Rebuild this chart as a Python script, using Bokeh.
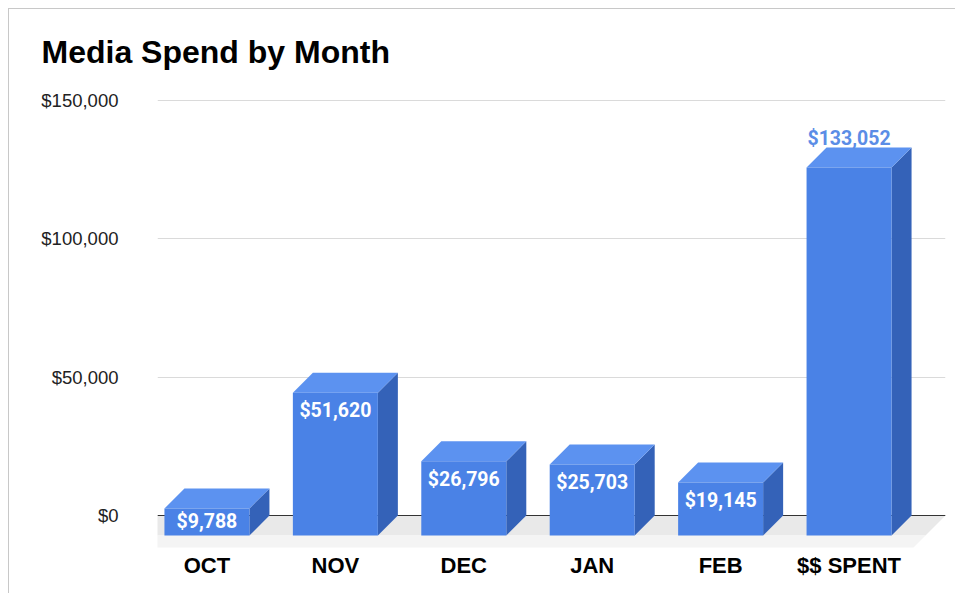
from bokeh.plotting import figure
from bokeh.models import ColumnDataSource, FixedTicker, NumeralTickFormatter, Range1d
from bokeh.core.properties import value
from bokeh.embed import file_html
from bokeh.resources import INLINE

# ---- data ----
CATEGORIES = ["OCT", "NOV", "DEC", "JAN", "FEB", "$$ SPENT"]
SPEND = [9788, 51620, 26796, 25703, 19145, 133052]
Y_TICKS = [0, 50000, 100000, 150000]
LABEL_OUTSIDE = [False, False, False, False, False, True]

# ---- layout / style ----
ML, MR, MT, MB = 148, 11, 81, 44
FW, FH = 788, 460
W, H = ML + FW + MR, MT + FH + MB
X0, X1 = -0.385, 5.751
Y0, Y1 = -12651, 153614
PX_X = FW / (X1 - X0)
PX_Y = FH / (Y1 - Y0)
DEPTH_PX = 20
BAR_PX = 85
dx = DEPTH_PX / PX_X
dy = DEPTH_PX / PX_Y
bw = BAR_PX / PX_X

FRONT = "#4a82e6"
TOP = "#5c92f0"
SIDE = "#3462b8"

p = figure(width=W, height=H, output_backend="svg", toolbar_location=None,
           x_range=Range1d(X0, X1), y_range=Range1d(Y0, Y1),
           min_border_left=ML, min_border_right=MR, min_border_top=MT, min_border_bottom=MB,
           title="Media Spend by Month")
p.outline_line_color = None
p.background_fill_color = "white"
p.border_fill_color = "white"

p.title.align = "left"
p.title.vertical_align = "middle"
p.title.offset = -116
p.title.standoff = 40
p.title.text_font = "Liberation Sans"
p.title.text_font_size = "32px"
p.title.text_font_style = "bold"
p.title.text_color = "#000000"

# floor
xl_floor, xr_floor = X0, X1
floor = dict(xs=[[xl_floor, xr_floor, xr_floor - dx, xl_floor - dx],
                 [xl_floor - dx, xr_floor - dx, xr_floor - 1.6 * dx, xl_floor - 1.6 * dx]],
             ys=[[0, 0, -dy, -dy], [-dy, -dy, -1.6 * dy, -1.6 * dy]],
             c=["#e9e9e9", "#f4f4f4"])
p.patches("xs", "ys", source=ColumnDataSource(floor), fill_color="c", line_color=None)

# baseline
p.segment(x0=[X0], y0=[0], x1=[X1], y1=[0], line_color="#333333", line_width=1.2)

# bars
idx = list(range(len(SPEND)))
fx, fy, tx, ty, sx, sy = [], [], [], [], [], []
for i, v in zip(idx, SPEND):
    l, r = i - bw / 2, i + bw / 2
    fx.append([l, r, r, l]); fy.append([-dy, -dy, v - dy, v - dy])
    tx.append([l, r, r + dx, l + dx]); ty.append([v - dy, v - dy, v, v])
    sx.append([r, r + dx, r + dx, r]); sy.append([-dy, 0, v, v - dy])
p.patches(sx, sy, fill_color=SIDE, line_color=None)
p.patches(tx, ty, fill_color=TOP, line_color=None)
p.patches(fx, fy, fill_color=FRONT, line_color=None)

# value labels
lab_in = dict(x=[], y=[], t=[])
lab_out = dict(x=[], y=[], t=[])
for i, v, out in zip(idx, SPEND, LABEL_OUTSIDE):
    txt = "${:,}".format(v)
    if out:
        lab_out["x"].append(i); lab_out["y"].append(v + 9 / PX_Y); lab_out["t"].append(txt)
    else:
        h_px = v * PX_Y
        off = min(18, h_px / 2)
        lab_in["x"].append(i); lab_in["y"].append(v - dy - off / PX_Y); lab_in["t"].append(txt)
p.text("x", "y", text="t", source=ColumnDataSource(lab_in), text_color="white",
       text_font=value("Roboto"), text_font_style="bold", text_font_size="19.5px",
       text_align="center", text_baseline="middle")
p.text("x", "y", text="t", source=ColumnDataSource(lab_out), text_color="#5b8de6",
       text_font=value("Roboto"), text_font_style="bold", text_font_size="19.5px",
       text_align="center", text_baseline="middle")

# axes
p.yaxis.ticker = FixedTicker(ticks=Y_TICKS)
p.yaxis.formatter = NumeralTickFormatter(format="$0,0")
p.yaxis.axis_line_color = None
p.yaxis.major_tick_line_color = None
p.yaxis.minor_tick_line_color = None
p.yaxis.major_label_standoff = 33
p.yaxis.major_label_text_font = "Liberation Sans"
p.yaxis.major_label_text_font_size = "18.5px"
p.yaxis.major_label_text_color = "#222222"

p.xaxis.ticker = FixedTicker(ticks=idx)
p.xaxis.major_label_overrides = {i: c for i, c in zip(idx, CATEGORIES)}
p.xaxis.axis_line_color = None
p.xaxis.major_tick_line_color = None
p.xaxis.minor_tick_line_color = None
p.xaxis.major_tick_out = 0
p.xaxis.major_tick_in = 0
p.xaxis.major_label_standoff = 2
p.xaxis.major_label_text_font = "Liberation Sans"
p.xaxis.major_label_text_font_style = "bold"
p.xaxis.major_label_text_font_size = "22px"
p.xaxis.major_label_text_color = "#000000"

p.xgrid.grid_line_color = None
p.ygrid.ticker = FixedTicker(ticks=Y_TICKS)
p.ygrid.grid_line_color = "#dadada"
p.ygrid.grid_line_width = 1.2

p.styles = {"margin-top": "8px", "margin-left": "8px",
            "border-top": "1px solid #c8c8c8", "border-left": "1px solid #c8c8c8"}

open("out.html", "w").write(file_html(p, INLINE))
